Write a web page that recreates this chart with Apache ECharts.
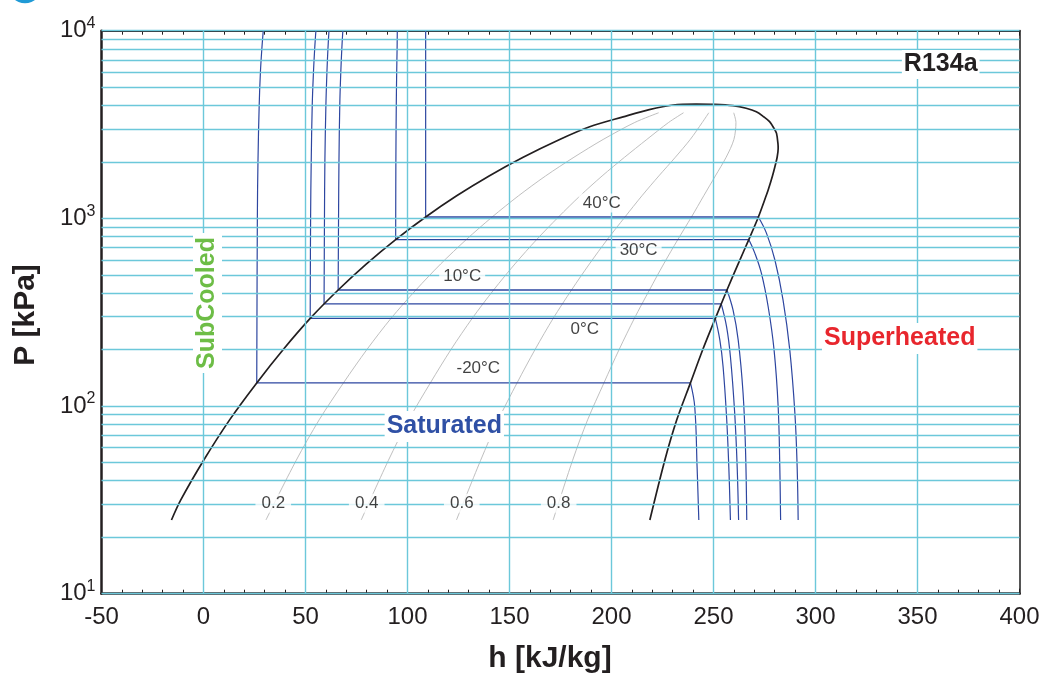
<!DOCTYPE html>
<html>
<head>
<meta charset="utf-8">
<script src="https://cdn.jsdelivr.net/npm/echarts@6.0.0/dist/echarts.min.js"></script>
<style>
html,body{margin:0;padding:0;background:#fff;}
#chart{width:1050px;height:675px;}
</style>
</head>
<body>
<div id="chart"></div>
<script>
// ---------------- DATA (h in kJ/kg, P in kPa) ----------------
const pGridValues = [10,20,30,40,50,60,70,80,90,100,200,300,400,500,600,700,800,900,1000,2000,3000,4000,5000,6000,7000,8000,9000,10000];
const hGridValues = [0,50,100,150,200,250,300,350];

// saturated liquid line
const satLiquid = [[-15.7,24.7],[-11.2,31.5],[0,51.25],[12.8,84.4],[26.1,132.8],[39.2,200.7],[52.3,293.0],[66.0,415.2],[79.9,572.1],[94.2,770.6],[108.9,1017.1],[124.1,1318.6],[140.0,1682.8],[156.7,2117],[174.6,2632.8],[189.3,3077],[205.7,3475],[218.5,3800],[230.2,4019],[241.5,4064]];
// saturated vapour line
const satVapor = [[241.5,4064],[250.5,4048],[259.5,3985],[266.0,3860],[271.0,3699],[274.6,3480],[277.5,3275],[279.8,3000],[280.9,2838],[281.6,2500],[281.7,2360],[281.2,2117],[280.1,1884],[278.9,1683],[276.8,1416],[275.8,1318.6],[272.0,1017.1],[267.3,770.6],[262.1,572.1],[256.6,415.2],[250.9,293.0],[244.8,200.7],[238.7,132.8],[232.0,84.4],[226.1,51.25],[218.8,24.7]];

// constant quality lines
const qualityNames = ['0.2','0.4','0.6','0.8'];
const quality02 = [[30.6,24.7],[45.4,51.25],[56.7,84.4],[68.6,132.8],[80.2,200.7],[91.9,293],[104.1,415.2],[116.3,572.1],[128.8,770.6],[141.5,1017.1],[154.4,1318.6],[167.7,1682.8],[181.6,2117],[195.9,2632.8],[211.4,3244],[223.1,3653]];
const quality04 = [[77.3,24.7],[90.6,51.25],[100.6,84.4],[111.2,132.8],[121.4,200.7],[131.7,293],[142.2,415.2],[152.7,572.1],[163.3,770.6],[174.0,1017.1],[184.6,1318.6],[195.4,1682.8],[206.4,2117],[217.3,2632.8],[228.0,3244],[235.3,3653]];
const quality06 = [[124.0,24.7],[135.8,51.25],[144.5,84.4],[153.7,132.8],[162.6,200.7],[171.4,293],[180.4,415.2],[189.2,572.1],[197.9,770.6],[206.6,1017.1],[214.9,1318.6],[223.2,1682.8],[231.3,2117],[238.6,2632.8],[244.5,3244],[247.7,3653]];
const quality08 = [[171.4,24.7],[180.9,51.25],[188.3,84.4],[196.3,132.8],[203.8,200.7],[211.2,293],[218.6,415.2],[225.6,572.1],[232.5,770.6],[239.2,1017.1],[245.2,1318.6],[250.9,1682.8],[256.2,2117],[260.0,2632.8],[261.0,3244],[259.9,3653]];

// isotherms: compressed liquid part (from saturation up) and superheated part (from saturation down)
const isoTemps = ['-20°C','0°C','5°C','10°C','30°C','40°C'];
const isoLiquid_m20 = [[26.1,132.8],[26.4,1000],[26.7,2000],[27.3,4000],[27.9,6000],[28.6,8000],[29.3,10000]];
const isoLiquid_0   = [[52.3,293],[52.5,1000],[52.8,2000],[53.3,4000],[53.9,6000],[54.5,8000],[55.1,10000]];
const isoLiquid_5   = [[59.1,350],[59.3,1000],[59.5,2000],[60.0,4000],[60.5,6000],[61.0,8000],[61.5,10000]];
const isoLiquid_10  = [[66.0,415.2],[66.2,1000],[66.4,2000],[66.8,4000],[67.3,6000],[67.8,8000],[68.3,10000]];
const isoLiquid_30  = [[94.2,770.6],[94.3,2000],[94.5,4000],[94.7,6000],[94.9,8000],[95.0,10000]];
const isoLiquid_40  = [[108.9,1017.1],[108.9,4000],[108.9,10000]];
const isoVapor_m20 = [[238.7,132.8],[240.8,99.2],[241.95,47.5],[242.8,24.7]];
const isoVapor_0   = [[250.9,293],[253.1,225],[254.7,162],[256.4,87.7],[257.5,47.5],[258.3,24.7]];
const isoVapor_5   = [[253.8,350],[256.4,264.6],[258.3,183],[260.4,91.4],[261.6,47.5],[262.3,24.7]];
const isoVapor_10  = [[256.6,415.2],[259.6,324],[262.1,225],[264.5,117],[265.7,58.3],[266.3,24.7]];
const isoVapor_30  = [[267.3,770.6],[270.3,651],[273.5,509],[276.8,338],[279.7,198.6],[281.7,99.2],[282.5,47.5],[282.9,24.7]];
const isoVapor_40  = [[272.0,1017.1],[276.0,832],[280.1,600],[284.1,367],[287.4,198.6],[289.9,91.4],[291.0,47.5],[291.5,24.7]];

const titleText = 'R134a';
const regionNames = ['SubCooled','Saturated','Superheated'];
const xAxisTitle = 'h [kJ/kg]';
const yAxisTitle = 'P [kPa]';

// ---------------- LAYOUT / STYLE ----------------
const FONT = '"Liberation Sans", Arial, Helvetica, sans-serif';
const INK = '#231f20';
const GRIDC = '#6cc8da';
const BLUE = '#2d46a0';

const isoLiquid = [isoLiquid_m20, isoLiquid_0, isoLiquid_5, isoLiquid_10, isoLiquid_30, isoLiquid_40];
const isoVapor = [isoVapor_m20, isoVapor_0, isoVapor_5, isoVapor_10, isoVapor_30, isoVapor_40];
const qualityLines = [quality02, quality04, quality06, quality08];

// label anchors (data coordinates)
const isoLabelAnchors = {'40°C':[195.2,1206],'30°C':[213.3,675],'10°C':[126.8,491],'0°C':[186.9,255],'-20°C':[134.7,159.4]};
const qualityLabelAnchors = [[34.2,30.3],[80.0,30.3],[126.6,30.3],[174.1,30.3]];

const series = [];
// grid lines
series.push({
  type:'line', data:[], z:1, silent:true,
  markLine:{silent:true, symbol:['none','none'], animation:false,
    label:{show:false}, emphasis:{disabled:true},
    lineStyle:{color:GRIDC, width:1.4, type:'solid', opacity:1},
    data: pGridValues.map(v=>({yAxis:v})).concat(hGridValues.map(v=>({xAxis:v})))}
});
// quality lines
qualityLines.forEach(d=>{
  series.push({type:'line', data:d, z:2, silent:true, showSymbol:false, symbol:'none', smooth:0.3,
    lineStyle:{color:'#b8b8b8', width:0.9}});
});
// isotherms
isoTemps.forEach((t,i)=>{
  const liq = isoLiquid[i], vap = isoVapor[i];
  series.push({type:'line', data:liq, z:3, silent:true, showSymbol:false, symbol:'none', smooth:0.4,
    lineStyle:{color:BLUE, width:1.2}});
  series.push({type:'line', data:[liq[0], vap[0]], z:3, silent:true, showSymbol:false, symbol:'none',
    lineStyle:{color:BLUE, width:1.3}});
  series.push({type:'line', data:vap, z:3, silent:true, showSymbol:false, symbol:'none', smooth:0.4,
    lineStyle:{color:BLUE, width:1.2}});
});
// saturation dome
series.push({type:'line', data: satLiquid.concat(satVapor.slice(1)), z:4, silent:true, showSymbol:false, symbol:'none', smooth:0.3,
  lineStyle:{color:INK, width:1.7}});
// isotherm labels
series.push({type:'scatter', z:10, silent:true, symbolSize:0,
  data: Object.keys(isoLabelAnchors).map(k=>({value:isoLabelAnchors[k], name:k})),
  label:{show:true, position:'inside', formatter:p=>p.name, fontSize:17, fontFamily:FONT, color:'#111',
    backgroundColor:'#fff', padding:[1,4]}});
// quality labels
series.push({type:'scatter', z:10, silent:true, symbolSize:0,
  data: qualityNames.map((n,i)=>({value:qualityLabelAnchors[i], name:n})),
  label:{show:true, position:'inside', formatter:p=>p.name, fontSize:17, fontFamily:FONT, color:'#111',
    backgroundColor:'#fff', padding:[1,6]}});

const chart = echarts.init(document.getElementById('chart'), null, {renderer:'canvas'});
const option = {
  animation:false,
  backgroundColor:'#fff',
  grid:{left:101.5, right:30.5, top:30.7, bottom:81.3, containLabel:false},
  xAxis:[{
    type:'value', min:-50, max:400, interval:50, position:'bottom',
    axisLine:{show:true, onZero:false, lineStyle:{color:INK, width:2.5}},
    axisTick:{show:true, inside:true, length:5, lineStyle:{color:INK, width:1}},
    minorTick:{show:true, splitNumber:5, length:4, lineStyle:{color:INK, width:1}},
    splitLine:{show:false},
    axisLabel:{fontSize:24, margin:12, color:INK, fontFamily:FONT}
  },{
    type:'value', min:-50, max:400, interval:50, position:'top',
    axisLine:{show:true, onZero:false, lineStyle:{color:INK, width:2}},
    axisTick:{show:true, inside:true, length:5, lineStyle:{color:INK, width:1}},
    minorTick:{show:true, splitNumber:5, length:4, lineStyle:{color:INK, width:1}},
    splitLine:{show:false}, axisLabel:{show:false}
  }],
  yAxis:[{
    type:'log', logBase:10, min:10, max:10000, position:'left',
    axisLine:{show:true, onZero:false, lineStyle:{color:INK, width:2.5}},
    axisTick:{show:false}, splitLine:{show:false}, minorTick:{show:false},
    axisLabel:{margin:6, color:INK, fontFamily:FONT,
      formatter:v=>'{b|10}{s|'+Math.round(Math.log10(v))+'}',
      rich:{b:{fontSize:24, lineHeight:30, fontFamily:FONT, color:INK},
            s:{fontSize:16, lineHeight:14, verticalAlign:'top', fontFamily:FONT, color:INK}}}
  },{
    type:'log', logBase:10, min:10, max:10000, position:'right',
    axisLine:{show:true, onZero:false, lineStyle:{color:'#555', width:2}},
    axisTick:{show:false}, splitLine:{show:false}, axisLabel:{show:false}
  }],
  series: series,
  graphic:[
    {type:'circle', shape:{cx:25, cy:-13.5, r:16.8}, style:{fill:'#1f9ad6'}, z:100, silent:true},
    {type:'text', z:100, silent:true, x:940.7, y:64.5, style:{text:titleText, font:'bold 25px '+FONT, fill:INK,
      align:'center', verticalAlign:'middle', backgroundColor:'#fff', padding:[2,2]}},
    {type:'text', z:100, silent:true, x:207.5, y:303, rotation:Math.PI/2, style:{text:regionNames[0], font:'bold 25px '+FONT, fill:'#6dbd46',
      align:'center', verticalAlign:'middle', backgroundColor:'#fff', padding:[2,4]}},
    {type:'text', z:100, silent:true, x:444.3, y:426.5, style:{text:regionNames[1], font:'bold 25px '+FONT, fill:'#2f50a5',
      align:'center', verticalAlign:'middle', backgroundColor:'#fff', padding:[3,2]}},
    {type:'text', z:100, silent:true, x:899.7, y:338.5, style:{text:regionNames[2], font:'bold 25px '+FONT, fill:'#e8262d',
      align:'center', verticalAlign:'middle', backgroundColor:'#fff', padding:[3,2]}},
    {type:'text', z:100, silent:true, x:550, y:659, style:{text:xAxisTitle, font:'bold 30px '+FONT, fill:INK,
      align:'center', verticalAlign:'middle'}},
    {type:'text', z:100, silent:true, x:26, y:315, rotation:Math.PI/2, style:{text:yAxisTitle, font:'bold 30px '+FONT, fill:INK,
      align:'center', verticalAlign:'middle'}}
  ]
};
chart.setOption(option);
</script>
</body>
</html>
